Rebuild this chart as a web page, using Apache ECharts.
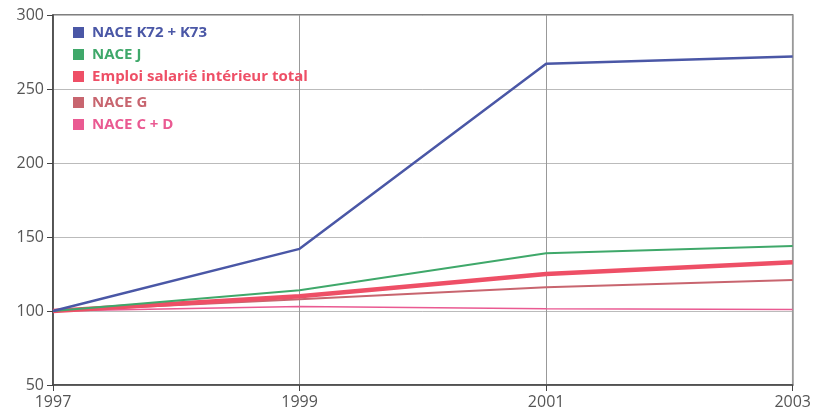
<!DOCTYPE html>
<html><head><meta charset="utf-8">
<script src="https://cdn.jsdelivr.net/npm/echarts@6/dist/echarts.min.js"></script>
<style>html,body{margin:0;padding:0;background:#fff}#c{width:814px;height:418px}</style>
</head><body><div id="c"></div>
<script>
const years = ['1997','1999','2001','2003'];
const k72k73 = [100, 142, 267, 272];
const naceJ = [100, 114, 139, 144];
const emploiTotal = [100, 110, 125, 133];
const naceG = [100, 108, 116, 121];
const naceCD = [100, 103, 101.5, 101];
const yTicks = [50, 100, 150, 200, 250, 300];

const names = ['NACE K72 + K73','NACE J','Emploi salarié intérieur total','NACE G','NACE C + D'];
const colors = ['#4a57a6','#3fa86a','#ee4f66','#c8656f','#ea5a92'];
const widths = [2.5, 2, 4.5, 2, 1.5];
const vals = [k72k73, naceJ, emploiTotal, naceG, naceCD];

const chart = echarts.init(document.getElementById('c'));
const font = '"Open Sans", "DejaVu Sans", sans-serif';
chart.setOption({
  animation:false,
  grid:{left:53,right:15,top:15,bottom:33,show:true,borderColor:'#555',borderWidth:1.5},
  legend:[
    {orient:'vertical',left:68,top:20,itemWidth:11,itemHeight:11,itemGap:7,icon:'rect',
     textStyle:{fontFamily:font,fontWeight:'bold',fontSize:15,padding:[0,0,0,3]},
     data:names.slice(0,3).map((n,i)=>({name:n,textStyle:{color:colors[i]}}))},
    {orient:'vertical',left:68,top:90,itemWidth:11,itemHeight:11,itemGap:7,icon:'rect',
     textStyle:{fontFamily:font,fontWeight:'bold',fontSize:15,padding:[0,0,0,3]},
     data:names.slice(3).map((n,i)=>({name:n,textStyle:{color:colors[i+3]}}))}
  ],
  xAxis:{type:'category',data:years,boundaryGap:false,
    axisLine:{lineStyle:{color:'#444',width:1.5}},
    axisTick:{show:true,length:6,lineStyle:{color:'#444'}},
    axisLabel:{color:'#555',fontSize:16,fontFamily:font,margin:9},
    splitLine:{show:true,lineStyle:{color:'#999',width:1}}},
  yAxis:{type:'value',min:yTicks[0],max:yTicks[yTicks.length-1],interval:50,
    axisLine:{show:true,lineStyle:{color:'#444',width:1.5}},
    axisTick:{show:true,length:6,lineStyle:{color:'#444'}},
    axisLabel:{color:'#555',fontSize:16,fontFamily:font,margin:9},
    splitLine:{show:true,lineStyle:{color:'#bbb',width:1}}},
  series:vals.map((d,i)=>({name:names[i],type:'line',data:d,symbol:'none',
    z: 10-i,
    lineStyle:{color:colors[i],width:widths[i]},itemStyle:{color:colors[i]}}))
});
</script></body></html>
